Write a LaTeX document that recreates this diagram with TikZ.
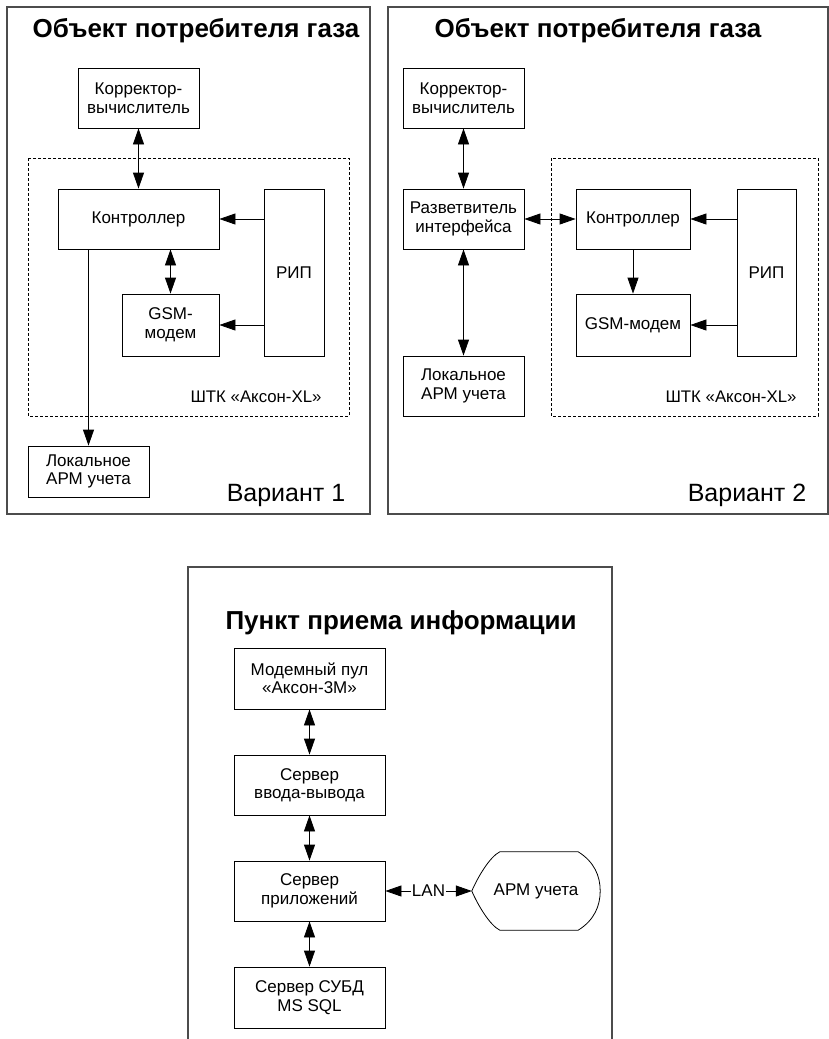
\documentclass[tikz,border=0pt]{standalone}
\usepackage{fontspec}
\setmainfont{Liberation Sans}
\usetikzlibrary{arrows.meta}
\begin{document}
\begin{tikzpicture}[x=1pt,y=-1pt,
  box/.style={draw, line width=0.8pt, inner sep=0pt, align=center, font=\fontsize{17}{18.5}\selectfont},
  frame/.style={draw=black!70, line width=1.2pt},
  dbox/.style={draw, line width=0.7pt, dash pattern=on 3pt off 2pt},
  conn/.style={line width=0.8pt},
  one/.style={conn, -{Triangle[length=16pt,width=11pt]}},
  two/.style={conn, {Triangle[length=16pt,width=11pt]}-{Triangle[length=16pt,width=11pt]}},
  ttl/.style={font=\fontsize{26}{30}\selectfont\bfseries},
  var/.style={font=\fontsize{25}{28}\selectfont},
  lbl/.style={font=\fontsize{16.8}{19}\selectfont},
  txt/.style={font=\fontsize{17}{18.5}\selectfont, align=center, inner sep=1pt}]
\useasboundingbox (0,0) rectangle (829,1039);
\fill[white] (0,0) rectangle (829,1039);

% ---------- Variant 1 ----------
\draw[frame] (7,7) rectangle (370,514);
\node[ttl] (t1) at (196,31) {Объект потребителя газа};
\draw[dbox] (28,158) rectangle (349,416);
\node[box, minimum width=121pt, minimum height=60pt] (k1) at (138.5,98) {Корректор-\\вычислитель};
\node[box, minimum width=161pt, minimum height=60pt] (c1) at (138.5,219) {Контроллер};
\node[box, minimum width=60pt, minimum height=167pt] (r1) at (294,272.5) {РИП};
\node[box, minimum width=97pt, minimum height=62pt] (g1) at (170.5,325) {GSM-\\модем};
\node[box, minimum width=121pt, minimum height=51pt] (l1) at (88.5,471.5) {Локальное\\АРМ учета};
\node[lbl] (s1) at (256,397) {ШТК «Аксон-XL»};
\node[var] (v1) at (286,495) {Вариант 1};
\draw[two] (k1.south) -- (c1.north);
\draw[one] (r1.west |- c1.east) -- (c1.east);
\draw[one] (r1.west |- g1.east) -- (g1.east);
\draw[two] (g1.north |- c1.south) -- (g1.north);
\draw[one] (l1.north |- c1.south) -- (l1.north);

% ---------- Variant 2 ----------
\draw[frame] (388,7) rectangle (828,514);
\node[ttl] (t2) at (598,31) {Объект потребителя газа};
\draw[dbox] (551,158) rectangle (818,416);
\node[box, minimum width=121pt, minimum height=60pt] (k2) at (463.5,98) {Корректор-\\вычислитель};
\node[box, minimum width=121pt, minimum height=60pt] (p2) at (463.5,219) {Разветвитель\\интерфейса};
\node[box, minimum width=121pt, minimum height=60pt] (l2) at (463.5,386) {Локальное\\АРМ учета};
\node[box, minimum width=114pt, minimum height=60pt] (c2) at (633,219) {Контроллер};
\node[box, minimum width=59pt, minimum height=167pt] (r2) at (766.5,272.5) {РИП};
\node[box, minimum width=114pt, minimum height=62pt] (g2) at (633,325) {GSM-модем};
\node[lbl] (s2) at (731,397) {ШТК «Аксон-XL»};
\node[var] (v2) at (747,495) {Вариант 2};
\draw[two] (k2.south) -- (p2.north);
\draw[two] (p2.south) -- (l2.north);
\draw[two] (p2.east) -- (c2.west);
\draw[one] (c2.south) -- (g2.north);
\draw[one] (r2.west |- c2.east) -- (c2.east);
\draw[one] (r2.west |- g2.east) -- (g2.east);

% ---------- Receiving point ----------
\draw[frame] (188,1045) -- (188,567) -- (612,567) -- (612,1045);
\node[ttl] (t3) at (401,623) {Пункт приема информации};
\node[box, minimum width=151pt, minimum height=61pt] (m) at (309.5,678.5) {Модемный пул\\«Аксон-3М»};
\node[box, minimum width=151pt, minimum height=60pt] (io) at (309.5,785) {Сервер\\ввода-вывода};
\node[box, minimum width=151pt, minimum height=60pt] (app) at (309.5,891) {Сервер\\приложений};
\node[box, minimum width=151pt, minimum height=61pt] (db) at (309.5,997.5) {Сервер СУБД\\MS SQL};
\node[txt, minimum width=128pt, minimum height=78pt, inner sep=0pt] (arm) at (536,891) {АРМ учета};
\draw[line width=0.8pt]
  ([xshift=28pt]arm.north west) -- ([xshift=-22pt]arm.north east)
  .. controls ([xshift=-6pt,yshift=-10pt]arm.north east) and ([yshift=-24pt]arm.north east) .. (arm.east)
  .. controls ([yshift=-15pt]arm.east) and ([xshift=-6pt,yshift=10pt]arm.south east) .. ([xshift=-22pt]arm.south east)
  -- ([xshift=28pt]arm.south west)
  .. controls ([xshift=18pt,yshift=5pt]arm.south west) and ([xshift=6pt,yshift=-14pt]arm.west) .. (arm.west)
  .. controls ([xshift=6pt,yshift=14pt]arm.west) and ([xshift=18pt,yshift=-5pt]arm.north west) .. cycle;
\node[txt] (lan) at (428.5,891) {LAN};
\draw[two] (m.south) -- (io.north);
\draw[two] (io.south) -- (app.north);
\draw[two] (app.south) -- (db.north);
\draw[one] (lan.west) -- (app.east);
\draw[one] (lan.east) -- (arm.west);
\end{tikzpicture}
\end{document}
